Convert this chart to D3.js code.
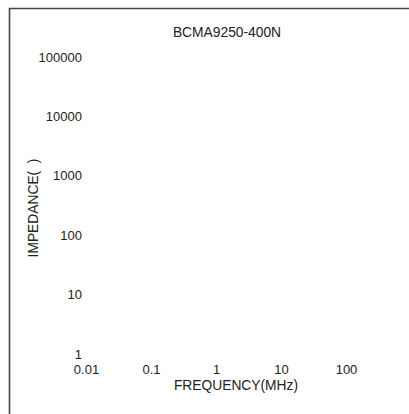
<!DOCTYPE html>
<html><head><meta charset="utf-8">
<script src="https://cdn.jsdelivr.net/npm/d3@7"></script>
<style>body{margin:0;background:#fff}svg{display:block}text{white-space:pre}</style>
</head><body>
<script>
const title = "BCMA9250-400N";
const xLabel = "FREQUENCY(MHz)";
const yLabel = "IMPEDANCE(  )";
const xTicks = [0.01, 0.1, 1, 10, 100];
const yTicks = [1, 10, 100, 1000, 10000, 100000];
const series = []; // no curve drawn in the reference

const W = 409, H = 414;
const svg = d3.select("body").append("svg").attr("width", W).attr("height", H);
const font = "Liberation Sans, Arial, sans-serif";
const col = "#222";

// frame
svg.append("path").attr("d", `M9.5,${H} L9.5,8.5 L${W},8.5`)
  .attr("fill", "none").attr("stroke", "#444").attr("stroke-width", 1.6);

const x = d3.scaleLog().domain([0.01, 100]).range([86, 346]);
const y = d3.scaleLog().domain([1, 100000]).range([354, 57]);

const xAxis = d3.axisBottom(x).tickValues(xTicks).tickSize(0).tickPadding(0)
  .tickFormat(d => d3.format("~g")(d));
const gx = svg.append("g").attr("transform", "translate(0,365)").call(xAxis);
gx.select(".domain").remove();
gx.selectAll("text").attr("font-family", font).attr("font-size", 13).attr("fill", col);

const yAxis = d3.axisLeft(y).tickValues(yTicks).tickSize(0).tickPadding(0)
  .tickFormat(d => String(d));
const gy = svg.append("g").attr("transform", "translate(82,0)").call(yAxis);
gy.select(".domain").remove();
gy.selectAll("text").attr("font-family", font).attr("font-size", 13).attr("fill", col);

const line = d3.line().x(d => x(d[0])).y(d => y(d[1]));
svg.selectAll(".s").data(series).join("path").attr("class","s")
  .attr("d", line).attr("fill","none").attr("stroke","#000");

svg.append("text").attr("x", 227).attr("y", 37).attr("text-anchor", "middle")
  .attr("font-family", font).attr("font-size", 13.8).attr("fill", col).text(title);
svg.append("text").attr("x", 236).attr("y", 390).attr("text-anchor", "middle")
  .attr("font-family", font).attr("font-size", 13.8).attr("fill", col).text(xLabel);
svg.append("text").attr("transform", "translate(38,208) rotate(-90)").attr("text-anchor", "middle")
  .attr("font-family", font).attr("font-size", 13.8).attr("fill", col).text(yLabel);
</script>
</body></html>
